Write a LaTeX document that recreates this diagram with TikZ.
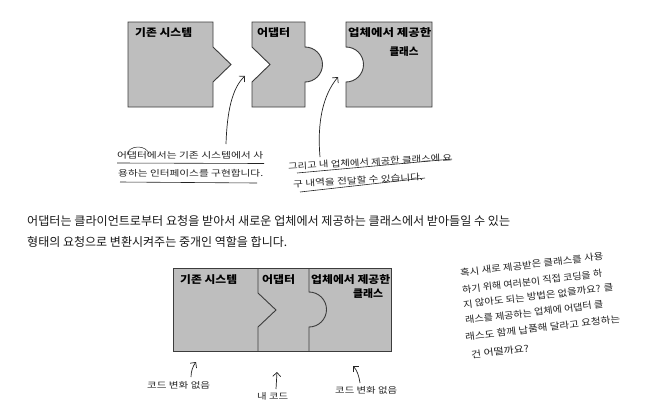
\documentclass[tikz,border=0pt]{standalone}
\usepackage{fontspec}
\usepackage{graphicx}
\usetikzlibrary{arrows.meta}
\newfontfamily\krfont{Noto Sans CJK KR}
\newfontfamily\handfont{Noto Sans CJK KR}
\newcommand{\fitw}[2]{\resizebox{#1}{\height}{#2}}
\definecolor{boxgray}{RGB}{190,190,190}
\definecolor{boxline}{RGB}{60,60,60}
\definecolor{pencol}{RGB}{35,35,35}
\definecolor{bodytext}{RGB}{25,25,25}
\begin{document}
\begin{tikzpicture}[x=1pt,y=-1pt,
  piece/.style={fill=boxgray, draw=boxline, line width=0.9pt, line join=miter},
  divider/.style={draw=boxline, line width=0.9pt},
  lbl/.style={font=\krfont\bfseries\fontsize{10.5}{13}\selectfont, text=black, inner sep=0pt, anchor=west},
  body/.style={font=\krfont\fontsize{12}{14}\selectfont, text=bodytext, inner sep=0pt, anchor=west},
  hand/.style={font=\handfont\fontsize{8.5}{11}\selectfont, text=pencol, inner sep=0pt, anchor=west},
  handbig/.style={font=\handfont\fontsize{9.2}{11}\selectfont, text=pencol, inner sep=0pt, anchor=west},
  penarrow/.style={draw=pencol, line width=0.7pt, -{Straight Barb[length=4pt,width=8pt]}},
  uline/.style={draw=pencol, line width=0.6pt}
]
\useasboundingbox (0,0) rectangle (655,413);
\fill[white] (0,0) rectangle (655,413);

% ---------- top row ----------
\draw[piece] (128,22) -- (213,22) -- (213,47) -- (231,64.5) -- (213,82) -- (213,107) -- (128,107) -- cycle;
\draw[piece] (252,22) -- (305,22) -- (305,47) arc[start angle=-90,end angle=90,radius=17.5] -- (305,107) -- (252,107) -- (252,82) -- (270,64.5) -- (252,47) -- cycle;
\draw[piece] (346,22) -- (432,22) -- (432,107) -- (346,107) -- (346,82) arc[start angle=90,end angle=-90,radius=17.5] -- cycle;

\node[lbl] (t1) at (135,33) {\fitw{57pt}{기존 시스템}};
\node[lbl] (t2) at (257,33) {\fitw{33pt}{어댑터}};
\node[lbl] (t3) at (348,33) {\fitw{83pt}{업체에서 제공한}};
\node[lbl, anchor=center] (t3b) at (404,52) {\fitw{29pt}{클래스}};

% top arrows
\coordinate (a1s) at (226,144);
\coordinate (a1e) at (245,76);
\coordinate (a2s) at (320,157);
\coordinate (a2e) at (338,77);
\draw[penarrow] (a1s) .. controls (227,112) and (232,88) .. (a1e);
\draw[penarrow] (a2s) .. controls (317,122) and (323,95) .. (a2e);

% note 1
\node[hand] (n1a) at (117,155) {\fitw{146pt}{어댑터에서는 기존 시스템에서 사}};
\node[hand] (n1b) at (118,173) {\fitw{145pt}{용하는 인터페이스를 구현합니다.}};
\draw[uline] (117,163) -- (264,163.5);
\draw[uline] (120,182) -- (257,183);
\draw[draw=pencol, line width=0.5pt] (127,155) arc[start angle=180,end angle=355,x radius=11,y radius=8];

% note 2
\node[hand, rotate=3.2] (n2a) at (288,166.5) {\fitw{164pt}{그리고 내 업체에서 제공한 클래스에 요}};
\node[hand, rotate=3.2] (n2b) at (293,184) {\fitw{130pt}{구 내역을 전달할 수 있습니다.}};
\draw[uline] (297,173) -- (452,159);
\draw[uline] (300,192) -- (425,178);

% ---------- paragraph ----------
\node[body] (p1) at (27,220.7) {\fitw{483pt}{어댑터는 클라이언트로부터 요청을 받아서 새로운 업체에서 제공하는 클래스에서 받아들일 수 있는}};
\node[body] (p2) at (27,241.7) {\fitw{260pt}{형태의 요청으로 변환시켜주는 중개인 역할을 합니다.}};

% ---------- bottom row ----------
\draw[piece] (173,268) rectangle (391,351);
\draw[divider] (258,268) -- (258,293) -- (276,310) -- (258,327) -- (258,351);
\draw[divider] (309,268) -- (309,292) arc[start angle=-90,end angle=90,radius=17.5] -- (309,351);

\node[lbl] (b1) at (180,280) {\fitw{57pt}{기존 시스템}};
\node[lbl] (b2) at (262,280) {\fitw{33pt}{어댑터}};
\node[lbl] (b3) at (311,280) {\fitw{79pt}{업체에서 제공한}};
\node[lbl, anchor=center] (b3b) at (368,294) {\fitw{30pt}{클래스}};

% bottom arrows and labels
\node[hand] (c1) at (147,385) {\fitw{63pt}{코드 변화 없음}};
\node[hand] (c2) at (257,396) {\fitw{31pt}{내 코드}};
\node[hand] (c3) at (335,390) {\fitw{62pt}{코드 변화 없음}};
\coordinate (d1s) at (191,377);
\coordinate (d1e) at (196,362);
\coordinate (d2s) at (276,389);
\coordinate (d2e) at (277,372);
\coordinate (d3s) at (360,383);
\coordinate (d3e) at (353,366);
\draw[penarrow] (d1s) .. controls (191,371) and (193,366) .. (d1e);
\draw[penarrow] (d2s) -- (d2e);
\draw[penarrow] (d3s) .. controls (359,376) and (357,370) .. (d3e);

% ---------- right note ----------
\node[handbig, rotate=6.8] (r1) at (460,273) {\fitw{144pt}{혹시 새로 제공받은 클래스를 사용}};
\node[handbig, rotate=6.8] (r2) at (462,290) {\fitw{141pt}{하기 위해 여러분이 직접 코딩을 하}};
\node[handbig, rotate=6.8] (r3) at (463,305) {\fitw{151pt}{지 않아도 되는 방법은 없을까요? 클}};
\node[handbig, rotate=6.8] (r4) at (465,320.5) {\fitw{139pt}{래스를 제공하는 업체에 어댑터 클}};
\node[handbig, rotate=6.8] (r5) at (465,337) {\fitw{156pt}{래스도 함께 납품해 달라고 요청하는}};
\node[handbig, rotate=6.8] (r6) at (471,355) {\fitw{58pt}{건 어떨까요?}};
\end{tikzpicture}
\end{document}
